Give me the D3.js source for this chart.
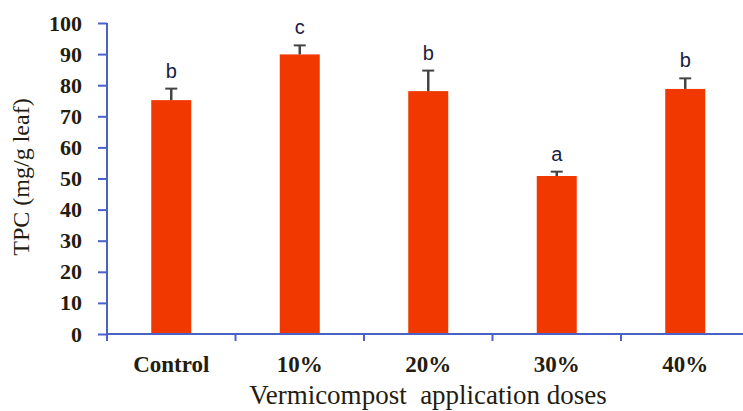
<!DOCTYPE html>
<html>
<head>
<meta charset="utf-8">
<script src="https://cdn.jsdelivr.net/npm/d3@7"></script>
<style>
  body { margin: 0; background: #fff; }
</style>
</head>
<body>
<div id="chart"></div>
<script>
var categories = ["Control", "10%", "20%", "30%", "40%"];
var values = [75.2, 89.9, 78.1, 50.8, 78.8];
var errors = [3.7, 2.9, 6.6, 1.4, 3.4];
var letters = ["b", "c", "b", "a", "b"];
var yTicks = [0, 10, 20, 30, 40, 50, 60, 70, 80, 90, 100];

var svg = d3.select("#chart")
  .append("svg")
  .attr("width", 743)
  .attr("height", 411);

var x0 = 107, y0 = 334, y1 = 23;
var bandW = 128.5;

var yScale = d3.scaleLinear().domain([0, 100]).range([y0, y1]);
var xScale = d3.scaleBand().domain(categories).range([x0, x0 + bandW * 5]);

var axisColor = "#4a62c8";
var textColor = "#231c10";

// y axis
var yAxis = d3.axisLeft(yScale).tickValues(yTicks).tickSize(9).tickPadding(16);
var yg = svg.append("g")
  .attr("transform", "translate(" + x0 + ",0)")
  .call(yAxis);
yg.select(".domain").attr("stroke", axisColor).attr("stroke-width", 2).attr("d", "M0," + y1 + "V" + y0);
yg.selectAll(".tick line").attr("stroke", axisColor).attr("stroke-width", 2);
yg.selectAll(".tick text")
  .attr("fill", textColor)
  .style("font-family", "'Liberation Serif', serif")
  .style("font-weight", "bold")
  .style("font-size", "22px");

// bars
var barW = 40;
svg.selectAll("rect.bar")
  .data(values)
  .enter().append("rect")
  .attr("class", "bar")
  .attr("x", function(d, i) { return xScale(categories[i]) + xScale.bandwidth() / 2 - barW / 2; })
  .attr("y", function(d) { return yScale(d); })
  .attr("width", barW)
  .attr("height", function(d) { return y0 - yScale(d); })
  .attr("fill", "#f03800");

// error bars
var eb = svg.selectAll("g.err")
  .data(values)
  .enter().append("g")
  .attr("class", "err")
  .attr("transform", function(d, i) { return "translate(" + (xScale(categories[i]) + xScale.bandwidth() / 2) + ",0)"; });
eb.append("line")
  .attr("x1", 0).attr("x2", 0)
  .attr("y1", function(d) { return yScale(d); })
  .attr("y2", function(d, i) { return yScale(d + errors[i]); })
  .attr("stroke", "#444").attr("stroke-width", 2.5);
eb.append("line")
  .attr("x1", -6).attr("x2", 6)
  .attr("y1", function(d, i) { return yScale(d + errors[i]); })
  .attr("y2", function(d, i) { return yScale(d + errors[i]); })
  .attr("stroke", "#444").attr("stroke-width", 2);
eb.append("text")
  .attr("x", 0)
  .attr("y", function(d, i) { return yScale(d + errors[i]) - 11; })
  .attr("text-anchor", "middle")
  .attr("fill", "#1a2040")
  .style("font-family", "'Liberation Sans', Arial, sans-serif")
  .style("font-size", "20px")
  .text(function(d, i) { return letters[i]; });

// x axis
var xAxis = d3.axisBottom(xScale).tickSize(0).tickPadding(22);
var xg = svg.append("g")
  .attr("transform", "translate(0," + y0 + ")")
  .call(xAxis);
xg.select(".domain").attr("stroke", axisColor).attr("stroke-width", 2).attr("d", "M" + x0 + ",0H743");
xg.selectAll(".tick text")
  .attr("fill", textColor)
  .style("font-family", "'Liberation Serif', serif")
  .style("font-weight", "bold")
  .style("font-size", "23px");
// category boundary ticks
xg.selectAll("line.sep")
  .data(categories)
  .enter().append("line")
  .attr("class", "sep")
  .attr("x1", function(d) { return xScale(d); })
  .attr("x2", function(d) { return xScale(d); })
  .attr("y1", 0).attr("y2", 7)
  .attr("stroke", axisColor).attr("stroke-width", 2);

// axis titles
svg.append("text")
  .attr("transform", "translate(29,177) rotate(-90)")
  .attr("text-anchor", "middle")
  .attr("fill", textColor)
  .style("font-family", "'Liberation Serif', serif")
  .style("font-size", "24px")
  .text("TPC (mg/g leaf)");

svg.append("text")
  .attr("x", 428)
  .attr("y", 404)
  .attr("text-anchor", "middle")
  .attr("fill", textColor)
  .style("font-family", "'Liberation Serif', serif")
  .style("font-size", "27px")
  .style("white-space", "pre")
  .text("Vermicompost  application doses");
</script>
</body>
</html>
